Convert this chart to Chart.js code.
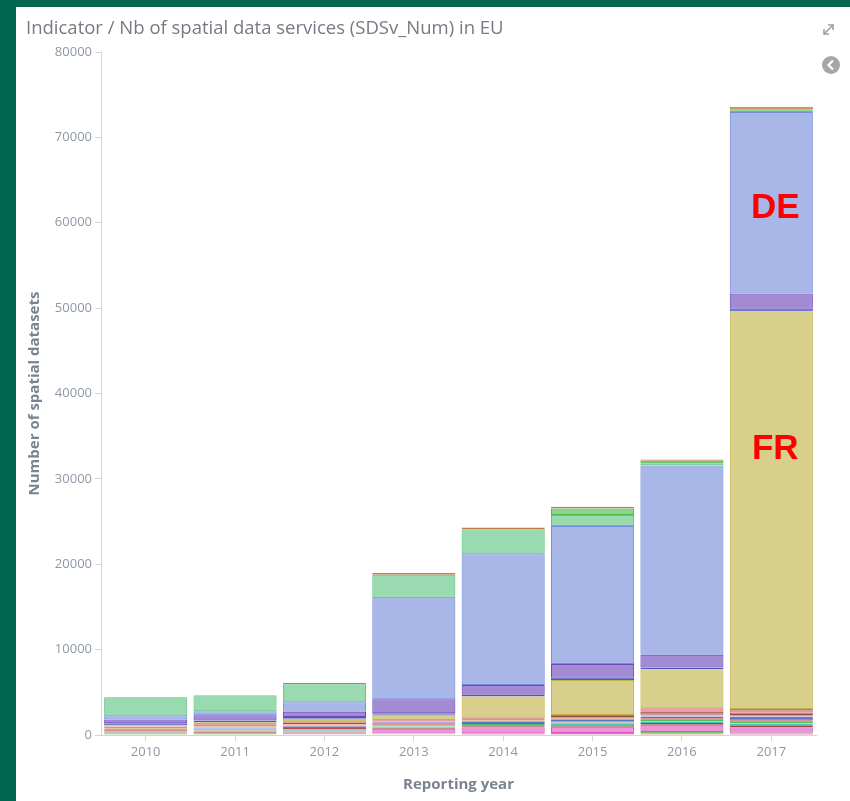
<!DOCTYPE html>
<html>
<head>
<meta charset="utf-8">
<script src="https://cdn.jsdelivr.net/npm/chart.js@4.4.0/dist/chart.umd.min.js"></script>
<style>
  html, body { margin: 0; padding: 0; background: #fff; }
  body { width: 850px; height: 801px; position: relative; overflow: hidden; font-family: "Open Sans", sans-serif; }
  #wrap { position: absolute; left: 0; top: 0; width: 850px; height: 801px; }
  .frame { position: absolute; background: #00664f; }
  #frame-top { left: 0; top: 0; width: 850px; height: 7px; }
  #frame-left { left: 0; top: 0; width: 16px; height: 801px; }
  #title { position: absolute; left: 26px; top: 14px; font-size: 18.5px; color: #757b84; white-space: nowrap; }
  #icons { position: absolute; left: 815px; top: 15px; }
</style>
</head>
<body>
<div id="wrap"><canvas id="chart"></canvas></div>
<div class="frame" id="frame-top"></div>
<div class="frame" id="frame-left"></div>
<div id="title">Indicator / Nb of spatial data services (SDSv_Num) in EU</div>
<svg id="icons" width="30" height="65" viewBox="0 0 30 65">
  <g stroke="#9a9ea6" stroke-width="1.6" fill="none">
    <line x1="9" y1="19" x2="18" y2="10"/>
    <polyline points="13,10 18,10 18,15"/>
    <polyline points="9,14 9,19 14,19"/>
  </g>
  <circle cx="16" cy="50" r="9" fill="#a3a6ab"/>
  <polyline points="18,45.5 13.5,50 18,54.5" stroke="#fff" stroke-width="2.2" fill="none"/>
</svg>
<script>
/* ── data (bottom of the stack first) ── */
const years = ['2010', '2011', '2012', '2013', '2014', '2015', '2016', '2017'];
const yMax  = 80000;
const yStep = 10000;

const minor01 = [60, 60, 80, 100, 120, 120, 150, 150];
const minor02 = [50, 60, 60, 80, 80, 100, 200, 120];
const minor03 = [80, 90, 150, 550, 700, 750, 850, 650];
const minor04 = [90, 100, 120, 150, 130, 180, 200, 220];
const minor05 = [100, 130, 150, 130, 150, 170, 200, 220];
const minor06 = [80, 100, 120, 120, 110, 150, 180, 200];
const minor07 = [90, 100, 140, 120, 110, 140, 170, 180];
const minor08 = [110, 130, 160, 140, 150, 180, 230, 260];
const minor09 = [80, 100, 120, 100, 90, 120, 100, 160];
const minor10 = [120, 140, 160, 100, 100, 120, 100, 180];
const minor11 = [70, 120, 180, 90, 100, 200, 350, 300];
const minor12 = [70, 120, 160, 80, 130, 110, 400, 400];
const frValues     = [120, 250, 300, 600, 2540, 4100, 4570, 46600];
const darkBlueVals = [250, 200, 200, 200, 210, 270, 200, 300];
const purpleVals   = [450, 600, 620, 1640, 1150, 1600, 1490, 1760];
const deValues     = [390, 470, 1120, 11980, 15310, 16160, 22170, 21280];
const greenAVals   = [2200, 1870, 2100, 2600, 2930, 1290, 280, 150];
const greenBVals   = [0, 0, 0, 0, 0, 780, 280, 150];
const topVals      = [40, 40, 150, 200, 200, 200, 150, 300];

const notes = [
  { text: 'DE', year: '2017', value: 61700 },
  { text: 'FR', year: '2017', value: 33500 }
];

/* ── styles ── */
const series = [
  { label: 'minor01', data: minor01, rgb: '191,64,128' },
  { label: 'minor02', data: minor02, rgb: '112,191,64' },
  { label: 'minor03', data: minor03, rgb: '217,79,191' },
  { label: 'minor04', data: minor04, rgb: '158,53,51' },
  { label: 'minor05', data: minor05, rgb: '64,191,176' },
  { label: 'minor06', data: minor06, rgb: '64,191,90' },
  { label: 'minor07', data: minor07, rgb: '191,64,64' },
  { label: 'minor08', data: minor08, rgb: '80,112,208' },
  { label: 'minor09', data: minor09, rgb: '138,96,192' },
  { label: 'minor10', data: minor10, rgb: '218,160,93' },
  { label: 'minor11', data: minor11, rgb: '160,64,64' },
  { label: 'minor12', data: minor12, rgb: '208,96,96' },
  { label: 'FR',      data: frValues,     rgb: '191,175,64' },
  { label: 'blue',    data: darkBlueVals, rgb: '64,80,191' },
  { label: 'purple',  data: purpleVals,   rgb: '102,61,184' },
  { label: 'DE',      data: deValues,     rgb: '111,135,216' },
  { label: 'greenA',  data: greenAVals,   rgb: '87,193,123' },
  { label: 'greenB',  data: greenBVals,   rgb: '64,184,64' },
  { label: 'top',     data: topVals,      rgb: '190,120,60' }
];

const AXIS_GREY = '#d3d6db';
const TICK_COL  = '#8f98a6';
const TITLE_COL = '#7b8290';

const noteLabels = {
  id: 'noteLabels',
  afterDatasetsDraw(chart) {
    const { ctx, scales: { x, y } } = chart;
    ctx.save();
    ctx.fillStyle = '#ff0000';
    ctx.font = 'bold 35px "Liberation Sans", Arial, sans-serif';
    ctx.textAlign = 'center';
    ctx.textBaseline = 'middle';
    notes.forEach(n => {
      ctx.fillText(n.text, x.getPixelForValue(years.indexOf(n.year)) + 4, y.getPixelForValue(n.value));
    });
    ctx.restore();
  }
};

new Chart(document.getElementById('chart').getContext('2d'), {
  type: 'bar',
  data: {
    labels: years,
    datasets: series.map(s => ({
      label: s.label,
      data: s.data,
      backgroundColor: `rgba(${s.rgb},0.6)`,
      borderColor: `rgba(${s.rgb},0.95)`,
      borderWidth: 1,
      borderSkipped: false,
      categoryPercentage: 1,
      barPercentage: 0.93
    }))
  },
  options: {
    responsive: true, maintainAspectRatio: false, animation: false,
    layout: { padding: { left: 16, top: 52, right: 34, bottom: 0 } },
    plugins: { legend: { display: false }, tooltip: { enabled: false } },
    scales: {
      x: {
        stacked: true,
        grid: { drawOnChartArea: false, offset: false, tickLength: 6, color: AXIS_GREY },
        border: { display: true, color: AXIS_GREY },
        ticks: { padding: 3, color: TICK_COL, font: { family: 'Open Sans', size: 13 } },
        title: { display: true, text: 'Reporting year', color: TITLE_COL, padding: { top: 4, bottom: 7 },
                 font: { family: 'Open Sans', size: 15, weight: 'bold' } },
        afterFit: s => { s.height = 66; }
      },
      y: {
        stacked: true, min: 0, max: yMax,
        grid: { drawOnChartArea: false, tickLength: 6, color: AXIS_GREY },
        border: { display: true, color: AXIS_GREY },
        ticks: { stepSize: yStep, padding: 3, color: TICK_COL, font: { family: 'Open Sans', size: 13 },
                 callback: v => String(v) },
        title: { display: true, text: 'Number of spatial datasets', color: TITLE_COL, padding: { top: 10, bottom: 0 },
                 font: { family: 'Open Sans', size: 15, weight: 'bold' } },
        afterFit: s => { s.width = 85; }
      }
    }
  },
  plugins: [noteLabels]
});
</script>
</body>
</html>
